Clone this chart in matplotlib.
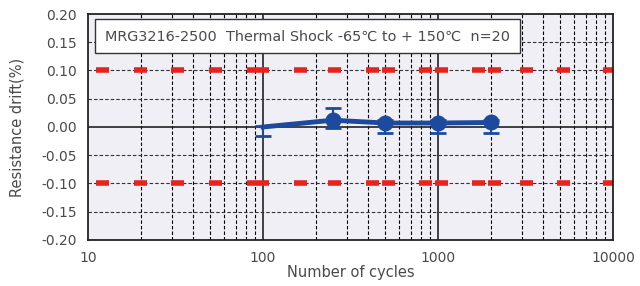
import matplotlib
matplotlib.use("Agg")
from matplotlib import pyplot as plt

plt.rcParams['font.family'] = ['DejaVu Sans', 'Noto Sans CJK JP']
plt.rcParams['lines.scale_dashes'] = False

# measured data
cycles = [100, 250, 500, 1000, 2000]
drift = [0.000, 0.012, 0.007, 0.007, 0.008]
err_low = [0.016, 0.014, 0.018, 0.018, 0.018]
err_high = [0.002, 0.022, 0.005, 0.005, 0.005]
limit = 0.10

y_ticks = [-0.20, -0.15, -0.10, -0.05, 0.00, 0.05, 0.10, 0.15, 0.20]
y_labels = ['-0.20', '-0.15', '-0.10', '-0.05', '0.00', '0.05', '0.10', '0.15', '0.20']
x_ticks = [10, 100, 1000, 10000]
x_labels = ['10', '100', '1000', '10000']
title = 'MRG3216-2500  Thermal Shock -65\u2103 to + 150\u2103  n=20'

BLUE = '#1c4a9e'
RED = '#e8231e'
TXT = '#4a4a4a'

fig = plt.figure(figsize=(6.4, 2.86), dpi=100)
ax = fig.add_axes([0.1375, 0.161, 0.8205, 0.79])
ax.set_facecolor('#f1eff6')
ax.set_xscale('log')
ax.set_xlim(10, 10000)
ax.set_ylim(-0.20, 0.20)

# grid
minor = [m * 10 ** d for d in (1, 2, 3) for m in range(2, 10)]
for x in minor:
    ax.axvline(x, color='black', lw=0.8, ls=(0, (2.5, 1.5)), zorder=1)
for x in (100, 1000):
    ax.axvline(x, color='#333333', lw=1.3, zorder=1)
for y in y_ticks[1:-1]:
    if y == 0:
        ax.axhline(y, color='#222222', lw=1.2, zorder=1)
    else:
        ax.axhline(y, color='#333333', lw=0.8, ls=(0, (2.5, 1.5)), zorder=1)

# limit lines (irregular dash pattern of the original, in pixels)
px = [0.01, 8, 13, 25, 13, 24, 13, 25, 13, 25, 22, 25, 13, 21, 13, 25, 13, 3,
      13, 24, 13, 3, 13, 24, 13, 3, 13, 19, 13, 24, 13, 25, 13, 100]
pattern = (0, [p * 0.72 for p in px])
for y in (limit, -limit):
    ax.axhline(y, color=RED, lw=4, ls=pattern, dash_capstyle='butt', zorder=2)

ax.errorbar(cycles, drift, yerr=[err_low, err_high], color=BLUE, lw=3.5,
            marker='o', markersize=10.5, markevery=[1, 2, 3, 4],
            capsize=6, capthick=2, elinewidth=1.5, zorder=3)

ax.set_xticks(x_ticks)
ax.set_xticklabels(x_labels)
ax.minorticks_off()
ax.set_yticks(y_ticks)
ax.set_yticklabels(y_labels)
ax.tick_params(which='both', length=0, labelsize=10, colors=TXT, pad=8)
ax.tick_params(axis='x', pad=8)

for s in ax.spines.values():
    s.set_color('#222222')
    s.set_linewidth(1.3)

ax.set_xlabel('Number of cycles', fontsize=10.5, color=TXT, labelpad=0)
ax.set_ylabel('Resistance drift(%)', fontsize=10.5, color=TXT, labelpad=12)

ax.text(0.033, 0.932, title, transform=ax.transAxes, fontsize=10.4,
        color=TXT, va='top', ha='left', zorder=5,
        bbox=dict(boxstyle='square,pad=0.7', fc='white', ec='#333333', lw=1))

fig.savefig('out.png', dpi=100)
